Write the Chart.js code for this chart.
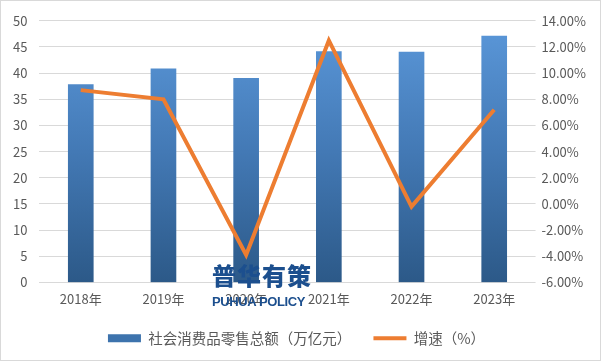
<!DOCTYPE html>
<html>
<head>
<meta charset="utf-8">
<script src="https://cdn.jsdelivr.net/npm/chart.js@4"></script>
<style>
  html, body { margin: 0; padding: 0; background: #fff; }
  #wrap { position: relative; width: 601px; height: 361px; box-sizing: border-box; border: 1px solid #d9d9d9; }
  #mark { position: absolute; left: 211px; top: 262px; color: #1c4f8e; line-height: 1; }
  #mark .cn { font-size: 24px; letter-spacing: 1px; font-family: "Noto Sans CJK SC", sans-serif; font-weight: 900; }
  #mark .en { font-size: 13px; letter-spacing: -0.4px; font-family: "Liberation Sans", sans-serif; font-weight: bold; margin-top: 8px; }
</style>
</head>
<body>
<div id="wrap">
  <canvas id="chart" width="599" height="359"></canvas>
  <div id="mark"><div class="cn">普华有策</div><div class="en">PUHUA POLICY</div></div>
</div>
<script>
// data
const years = ['2018年', '2019年', '2020年', '2021年', '2022年', '2023年'];
const retailSales = [37.8, 40.8, 39.0, 44.1, 44.0, 47.1];   // 万亿元
const growthRate = [8.7, 8.0, -3.9, 12.5, -0.2, 7.2];        // %

const labelFont = { family: "'Noto Sans CJK SC', sans-serif", size: 13 };
const tickColor = '#595959';

// ================================
// BAR GRADIENT
// ================================
function barGradient(context) {
    const chart = context.chart;
    const area = chart.chartArea;
    if (!area) return '#4a80b8';
    const g = chart.ctx.createLinearGradient(0, area.top, 0, area.bottom);
    g.addColorStop(0, '#5b98da');
    g.addColorStop(0.5, '#4379b5');
    g.addColorStop(1, '#2c5988');
    return g;
}

const ctx = document.getElementById('chart');
new Chart(ctx, {
    type: 'bar',
    data: {
        labels: years,
        datasets: [
            {
                type: 'line',
                label: '增速（%）',
                data: growthRate,
                yAxisID: 'y2',
                borderColor: '#ed7d31',
                backgroundColor: '#ed7d31',
                borderWidth: 4,
                pointRadius: 0,
                tension: 0,
                pointStyle: 'line',
                order: 0
            },
            {
                label: '社会消费品零售总额（万亿元）',
                data: retailSales,
                yAxisID: 'y',
                backgroundColor: barGradient,
                barThickness: 25,
                pointStyle: 'rect',
                order: 1
            }
        ]
    },
    options: {
        responsive: false,
        animation: false,
        layout: { padding: { left: 0, right: 8, top: 2, bottom: 4.5 } },
        plugins: {
            legend: {
                position: 'bottom',
                reverse: true,
                labels: {
                    color: tickColor,
                    font: { family: labelFont.family, size: 14.5 },
                    usePointStyle: true,
                    pointStyleWidth: 33,
                    boxHeight: 8,
                    padding: 15,
                    generateLabels(chart) {
                        const items = Chart.defaults.plugins.legend.labels.generateLabels(chart);
                        items.forEach(it => {
                            if (it.pointStyle === 'rect') {
                                it.fillStyle = '#3d73ad';
                                it.strokeStyle = '#3d73ad';
                                it.lineWidth = 0;
                                // wider gap before the next item
                                it.text += '\u3000';
                            }
                        });
                        return items;
                    }
                }
            },
            tooltip: { enabled: false }
        },
        scales: {
            x: {
                grid: { display: false, drawTicks: false },
                border: { display: false },
                ticks: { color: tickColor, font: labelFont, padding: 9 }
            },
            y: {
                position: 'left',
                min: 0,
                max: 50,
                ticks: { stepSize: 5, color: tickColor, font: labelFont, padding: 12 },
                grid: { color: '#d9d9d9', drawTicks: false },
                border: { display: false }
            },
            y2: {
                position: 'right',
                min: -6,
                max: 14,
                ticks: {
                    stepSize: 2,
                    color: tickColor,
                    font: labelFont,
                    padding: 6,
                    callback: v => v.toFixed(2) + '%'
                },
                grid: { display: false, drawTicks: false },
                border: { display: false }
            }
        }
    }
});
</script>
</body>
</html>
